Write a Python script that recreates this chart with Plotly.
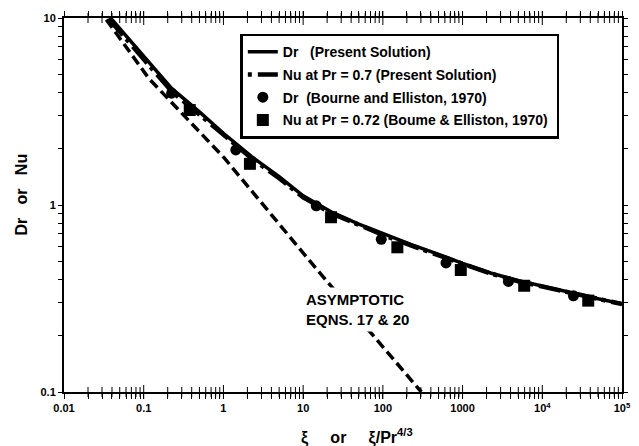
import plotly.graph_objects as go

# ---- data ----
dr_xi = [0.03, 0.1, 0.224, 0.5, 1, 2.24, 5, 10, 22.4, 50, 100, 224, 500, 1000, 2240, 5000, 10000, 22400, 50000, 100000]
dr_val = [11.3, 6.2, 4.2, 3.15, 2.42, 1.82, 1.42, 1.12, 0.92, 0.79, 0.70, 0.615, 0.545, 0.487, 0.433, 0.394, 0.369, 0.34, 0.315, 0.296]

nu_xi = [0.03, 0.1, 0.224, 0.5, 1, 2.24, 5, 10, 22.4, 50, 100, 224, 500, 1000, 2240, 5000, 10000, 22400, 50000, 100000]
nu_val = [10.9, 5.95, 4.05, 3.05, 2.36, 1.78, 1.39, 1.10, 0.905, 0.78, 0.692, 0.608, 0.54, 0.483, 0.43, 0.391, 0.366, 0.338, 0.313, 0.295]

asym_xi = [0.034, 0.116, 1.03, 13.9, 304]
asym_val = [9.8, 4.75, 1.78, 0.468, 0.1]

be_dr_xi = [0.224, 1.43, 14.6, 95.5, 620, 3760, 24600]
be_dr_val = [3.96, 1.97, 0.99, 0.655, 0.49, 0.39, 0.327]

be_nu_xi = [0.378, 2.15, 22.4, 152, 950, 5930, 37700]
be_nu_val = [3.22, 1.66, 0.86, 0.594, 0.449, 0.37, 0.308]

x_tickvals = [0.01, 0.1, 1, 10, 100, 1000, 1e4, 1e5]
x_ticktext = ["0.01", "0.1", "1", "10", "100", "1000", "10<sup>4</sup>", "10<sup>5</sup>"]
y_tickvals = [0.1, 1, 10]
y_ticktext = ["0.1", "1", "10"]

# minor tick positions (2..9 within each decade)
x_minor = [m * 10.0 ** e for e in range(-2, 5) for m in range(2, 10)]
y_minor = [m * 10.0 ** e for e in range(-1, 1) for m in range(2, 10)]

FONT = "Liberation Sans, Arial, sans-serif"
NB = "\u00a0"

fig = go.Figure()

fig.add_trace(go.Scatter(x=asym_xi, y=asym_val, mode="lines",
                         line=dict(color="black", width=3.5, dash="10px,5px"),
                         showlegend=False, hoverinfo="skip"))

fig.add_trace(go.Scatter(x=be_dr_xi, y=be_dr_val, mode="markers",
                         marker=dict(symbol="circle", size=11, color="black"),
                         name="Dr" + NB * 2 + "(Bourne and Elliston, 1970)",
                         legendgroup="c", legendrank=3))
fig.add_trace(go.Scatter(x=be_nu_xi, y=be_nu_val, mode="markers",
                         marker=dict(symbol="square", size=12, color="black"),
                         name="Nu at Pr = 0.72 (Boume & Elliston, 1970)" + NB,
                         legendgroup="d", legendrank=4))

fig.add_trace(go.Scatter(x=nu_xi, y=nu_val, mode="lines",
                         line=dict(color="black", width=4.5, dash="4px,6px,22px,5px"),
                         name="Nu at Pr = 0.7 (Present Solution)",
                         legendgroup="b", legendrank=2))
fig.add_trace(go.Scatter(x=dr_xi, y=dr_val, mode="lines",
                         line=dict(color="black", width=3.5),
                         name="Dr" + NB * 3 + "(Present Solution)",
                         legendgroup="a", legendrank=1))

# all tick positions on the main axes (labels only on decades)
x_all = x_tickvals + x_minor
x_all_text = x_ticktext + [""] * len(x_minor)
y_all = y_tickvals + y_minor
y_all_text = y_ticktext + [""] * len(y_minor)

# inner halves of the crossing x ticks (shapes are clipped to the plot area)
tick_line = dict(color="black", width=1)
shapes = []
for vals, half in [(x_tickvals[1:-1], 7), (x_minor, 5)]:
    for v in vals:
        for anchor in (0, 1):
            shapes.append(dict(type="line", xref="x", yref="paper", x0=v, x1=v,
                               ysizemode="pixel", yanchor=anchor, y0=-half, y1=half,
                               line=tick_line, layer="above"))

fig.update_layout(
    width=639, height=446,
    margin=dict(l=64, r=8, t=18, b=54),
    paper_bgcolor="white", plot_bgcolor="white",
    font=dict(family=FONT, color="black", size=11, weight="bold"),
    xaxis=dict(type="log", range=[-2, 5], tickmode="array", tickvals=x_all, ticktext=x_all_text,
               ticks="outside", ticklen=5, tickwidth=1, tickcolor="black",
               showline=True, linewidth=2, linecolor="black", mirror="allticks",
               showgrid=False, zeroline=False,
               tickfont=dict(family=FONT, size=11, weight="bold")),
    yaxis=dict(type="log", range=[-1, 1], tickmode="array", tickvals=y_all, ticktext=y_all_text,
               ticks="outside", ticklen=4, tickwidth=1, tickcolor="black",
               showline=True, linewidth=2, linecolor="black", mirror="allticks",
               showgrid=False, zeroline=False,
               tickfont=dict(family=FONT, size=11, weight="bold")),
    shapes=shapes,
    legend=dict(x=0.316, y=0.958, xanchor="left", yanchor="top",
                bgcolor="white", bordercolor="black", borderwidth=2.5,
                font=dict(family=FONT, size=14, weight="bold"),
                traceorder="grouped", tracegroupgap=1.5, itemwidth=30),
    annotations=[
        dict(text="ASYMPTOTIC<br>EQNS. 17 & 20", xref="paper", yref="paper",
             x=0.426, y=0.22, xanchor="left", yanchor="middle", align="left",
             showarrow=False, bgcolor="white", borderpad=3,
             font=dict(family=FONT, size=15, weight="bold")),
        dict(text="ξ" + NB * 5 + "or" + NB * 5 + "ξ/Pr<sup>4/3</sup>", xref="paper", yref="paper",
             x=0.5256, y=-0.118, xanchor="center", yanchor="middle", showarrow=False,
             font=dict(family=FONT, size=16, weight="bold")),
        dict(text="Dr" + NB * 3 + "or" + NB * 3 + "Nu", xref="paper", yref="paper",
             x=-0.0758, y=0.527, xanchor="center", yanchor="middle", showarrow=False,
             textangle=-90, font=dict(family=FONT, size=16, weight="bold")),
    ],
)

fig.write_html("out.html")
